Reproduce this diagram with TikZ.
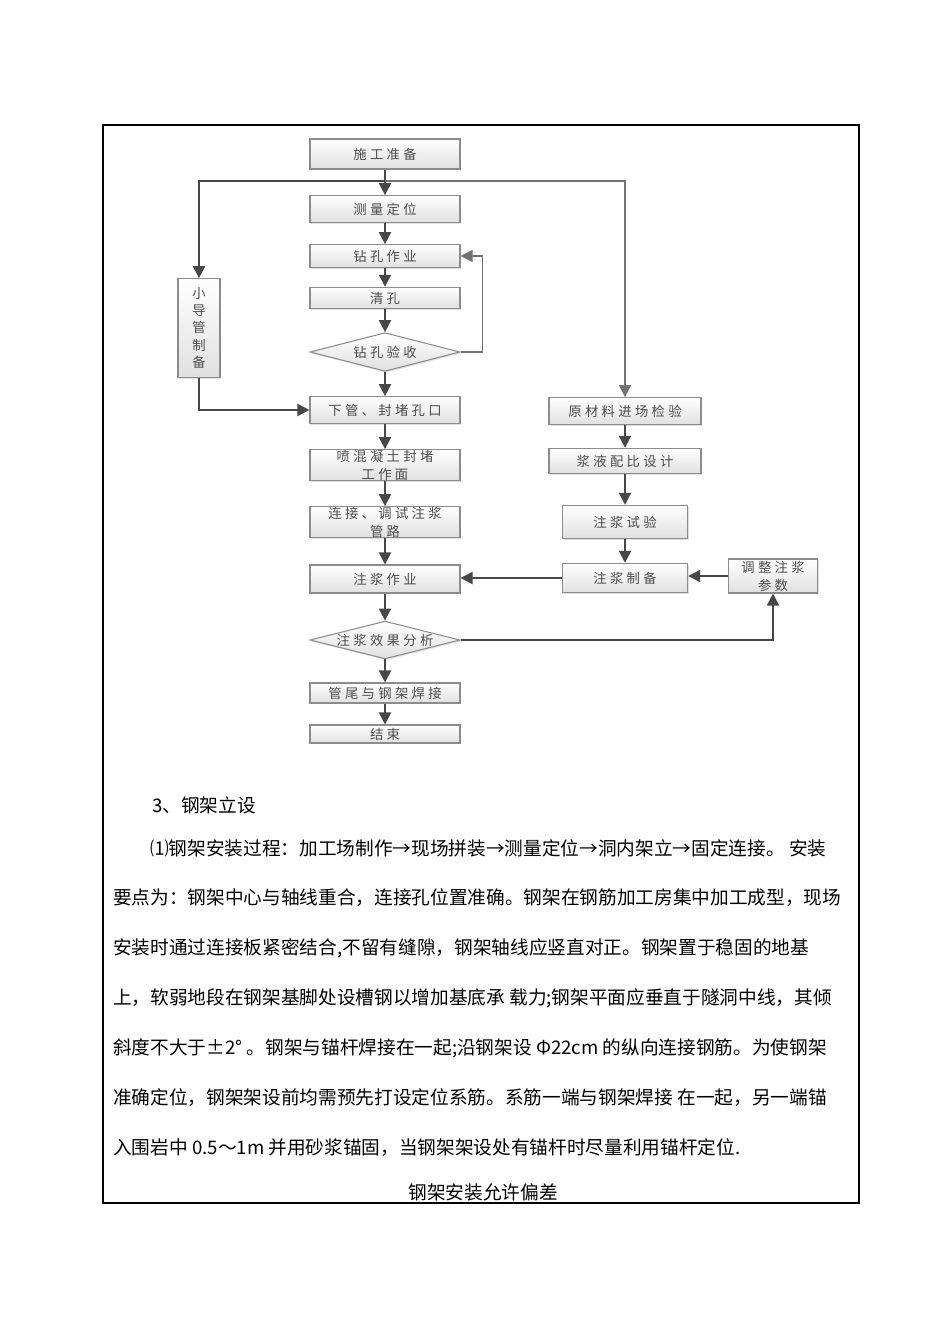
\documentclass[tikz,border=0pt]{standalone}
\usepackage{fontspec}
\newfontfamily\cjk{Noto Sans CJK SC}
\newfontfamily\cjkbox[LetterSpace=25]{Noto Sans CJK SC}
\usetikzlibrary{arrows.meta,shapes.geometric,shadows}
\tikzset{
  stepbox/.style={draw=black!45, line width=0.8pt, top color=white,
    bottom color=black!12, inner sep=0pt, text=black!70, align=center,
    font=\fontsize{10}{13.5}\selectfont\cjkbox,
    drop shadow={shadow xshift=1pt, shadow yshift=-1pt, opacity=0.25}},
  checkbox/.style={stepbox, shape=diamond, aspect=3.8},
  flow/.style={line width=1.5pt, draw=black!72,
    -{Triangle[length=9pt,width=9pt]}},
  thinflow/.style={line width=0.9pt, draw=black!55,
    -{Triangle[length=9pt,width=9pt]}},
  bodytext/.style={anchor=west, inner sep=0pt,
    font=\fontsize{14}{14}\selectfont\cjk}
}
\begin{document}
\begin{tikzpicture}[x=0.75pt, y=-0.75pt]
  \useasboundingbox (0,0) rectangle (950,1344);
  \pgfmathsetmacro{\cx}{385}
  \pgfmathsetmacro{\rx}{625}
  \pgfmathsetmacro{\w}{112.5}
  \draw[line width=1.3pt] (103,125) rectangle (859,1203);
  % left column
  \node[stepbox, minimum width=\w pt, minimum height=22.5pt] (prep) at (\cx,154) {施工准备};
  \node[stepbox, minimum width=\w pt, minimum height=20pt] (survey) at (\cx,209) {测量定位};
  \node[stepbox, minimum width=\w pt, minimum height=17pt] (drill) at (\cx,256) {钻孔作业};
  \node[stepbox, minimum width=\w pt, minimum height=16pt] (clean) at (\cx,298) {清孔};
  \node[checkbox, minimum width=\w pt, minimum height=29pt] (check) at (\cx,352) {钻孔验收};
  \node[stepbox, minimum width=31.5pt, minimum height=74pt,
        font=\fontsize{10}{13}\selectfont\cjk] (pipe) at (199,328) {小\\导\\管\\制\\备};
  \node[stepbox, minimum width=\w pt, minimum height=20pt] (lower) at (\cx,410) {下管、封堵孔口};
  \node[stepbox, minimum width=\w pt, minimum height=23pt] (shot) at (\cx,465) {喷混凝土封堵\\工作面};
  \node[stepbox, minimum width=\w pt, minimum height=23pt] (connect) at (\cx,522) {连接、调试注浆\\管路};
  \node[stepbox, minimum width=\w pt, minimum height=21pt] (grout) at (\cx,579) {注浆作业};
  \node[checkbox, minimum width=\w pt, minimum height=26pt] (effect) at (\cx,640) {注浆效果分析};
  \node[stepbox, minimum width=\w pt, minimum height=15pt] (weld) at (\cx,693) {管尾与钢架焊接};
  \node[stepbox, minimum width=\w pt, minimum height=13.5pt] (finish) at (\cx,734) {结束};
  % right column
  \node[stepbox, minimum width=114pt, minimum height=20pt] (raw) at (\rx,411) {原材料进场检验};
  \node[stepbox, minimum width=114pt, minimum height=19pt] (ratio) at (\rx,461) {浆液配比设计};
  \node[stepbox, minimum width=94pt, minimum height=25pt] (test) at (\rx,522) {注浆试验};
  \node[stepbox, minimum width=94pt, minimum height=22pt] (mix) at (\rx,578) {注浆制备};
  \node[stepbox, minimum width=67pt, minimum height=25.5pt] (adjust) at (773,576) {调整注浆\\参数};
  % connectors
  \coordinate (split) at (\cx,181);
  \draw[flow] (prep) -- (survey);
  \draw[flow] (split) -| (pipe);
  \draw[thinflow] (split) -| (raw);
  \draw[flow] (survey) -- (drill);
  \draw[flow] (drill) -- (clean);
  \draw[flow] (clean) -- (check);
  \draw[thinflow] (check.east) -- ++(22,0) |- (drill.east);
  \draw[flow] (check) -- (lower);
  \draw[flow] (pipe.south) |- (lower.west);
  \draw[flow] (lower) -- (shot);
  \draw[flow] (shot) -- (connect);
  \draw[flow] (connect) -- (grout);
  \draw[flow] (grout) -- (effect);
  \draw[flow] (effect) -- (weld);
  \draw[flow] (weld) -- (finish);
  \draw[flow] (raw) -- (ratio);
  \draw[flow] (ratio) -- (test);
  \draw[flow] (test) -- (mix);
  \draw[flow] (mix.west) -- (mix.west -| grout.east);
  \draw[flow] (adjust.west) -- (adjust.west -| mix.east);
  \draw[flow, line width=1.2pt] (effect.east) -| (adjust.south);
  % text below
  \node[bodytext] (head) at (152,805) {3、钢架立设};
  \node[bodytext] (line1) at (150,848) {⑴钢架安装过程：加工场制作→现场拼装→测量定位→洞内架立→固定连接。 安装};
  \node[bodytext] (line2) at (113,898) {要点为：钢架中心与轴线重合，连接孔位置准确。钢架在钢筋加工房集中加工成型，现场};
  \node[bodytext] (line3) at (113,948) {安装时通过连接板紧密结合,不留有缝隙，钢架轴线应竖直对正。钢架置于稳固的地基};
  \node[bodytext] (line4) at (113,998) {上，软弱地段在钢架基脚处设槽钢以增加基底承 载力;钢架平面应垂直于隧洞中线，其倾};
  \node[bodytext] (line5) at (113,1048) {斜度不大于±2° 。钢架与锚杆焊接在一起;沿钢架设 Φ22cm 的纵向连接钢筋。为使钢架};
  \node[bodytext] (line6) at (113,1098) {准确定位，钢架架设前均需预先打设定位系筋。系筋一端与钢架焊接 在一起，另一端锚};
  \node[bodytext] (line7) at (113,1148) {入围岩中 0.5～1m 并用砂浆锚固，当钢架架设处有锚杆时尽量利用锚杆定位.};
  \node[bodytext, anchor=center] (caption) at (483,1192) {钢架安装允许偏差};
\end{tikzpicture}
\end{document}
